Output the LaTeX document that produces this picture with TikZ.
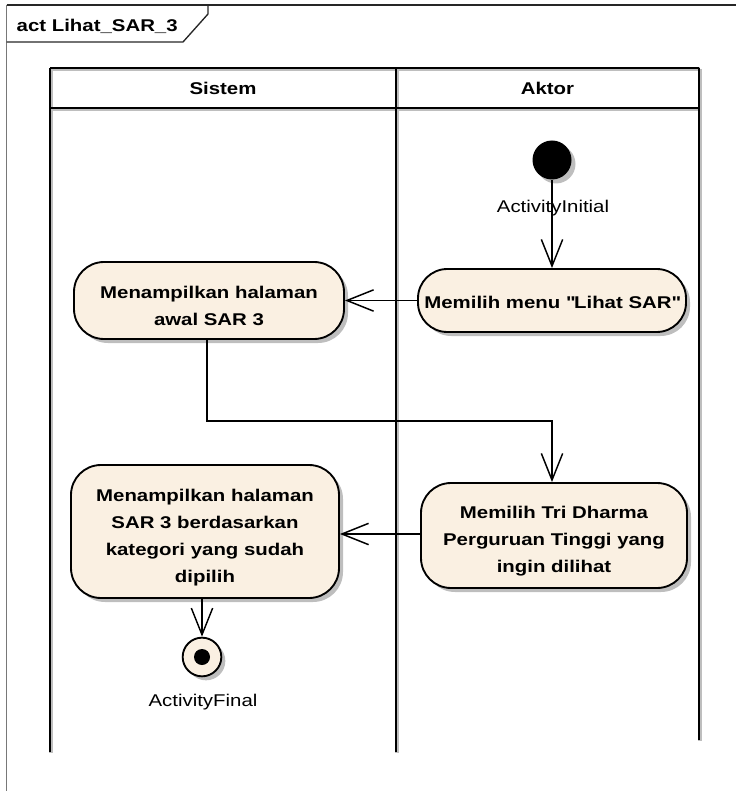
\documentclass[tikz,border=0pt]{standalone}
\usepackage{fontspec}
\setmainfont{Liberation Sans}[FakeStretch=1.2]
\usetikzlibrary{arrows.meta,shadows}
\definecolor{cream}{RGB}{250,240,226}
\definecolor{shadowgray}{RGB}{190,190,190}
\definecolor{framegray}{RGB}{120,120,120}
\newcommand{\topstrut}[1]{\rule{0pt}{#1}}
\tikzset{
  txt/.style={font=\fontsize{12.75}{20.3}\selectfont},
  btxt/.style={font=\fontsize{12.75}{20.3}\selectfont\bfseries},
  shad/.style={drop shadow={shadow xshift=3pt,shadow yshift=-3pt,fill=shadowgray,opacity=1}},
  actbox/.style={btxt,draw,line width=1.4pt,fill=cream,align=center,inner sep=0pt,shad},
  conn/.style={line width=1.1pt,-{Straight Barb[length=20pt,width=16pt,line width=1.1pt]}},
  laneshade/.style={line width=2.6pt,shadowgray},
  lane/.style={line width=1.5pt,black},
}
\begin{document}
\begin{tikzpicture}[x=0.75pt,y=-0.75pt]
\useasboundingbox (0,0) rectangle (736,791);
% outer frame
\draw[framegray,line width=1.3pt] (6.5,5) -- (6.5,791);
\draw[black!85,line width=1pt] (6.5,5) -- (736,5);
\draw[black!85,line width=1pt] (6.5,42) -- (183,42) -- (208,14) -- (208,5);
\node[btxt,anchor=west] (title) at (12,26) {act Lihat\_SAR\_3};
% swimlanes
\draw[laneshade] (51,69) -- (51,753);
\draw[laneshade] (397,69) -- (397,753);
\draw[laneshade] (700,69) -- (700,741);
\draw[laneshade] (51,69) -- (700,69);
\draw[laneshade] (51,109) -- (700,109);
\draw[lane] (50,68) -- (50,752);
\draw[lane] (396,68) -- (396,752);
\draw[lane] (699,68) -- (699,740);
\draw[lane] (50,68) -- (699,68);
\draw[lane] (50,108) -- (699,108);
\node[btxt] (hsis) at (223,88) {Sistem};
\node[btxt] (hakt) at (547.5,88) {Aktor};
% nodes
\node[circle,fill=black,minimum size=29.25pt,inner sep=0pt,shad] (init) at (552,160) {};
\node[txt] (initlbl) at (553,208) {ActivityInitial};
\node[actbox,minimum width=201pt,minimum height=47.25pt,rounded corners=22pt] (menu) at (552,300.5) {\topstrut{12.5pt}Memilih menu \textquotedbl Lihat SAR\textquotedbl};
\node[actbox,minimum width=202.5pt,minimum height=57.75pt,rounded corners=22.5pt] (awal) at (209,300.5) {\topstrut{18pt}Menampilkan halaman\\awal SAR 3};
\node[actbox,minimum width=199.5pt,minimum height=78.75pt,rounded corners=22.5pt] (tri) at (554,535.5) {\topstrut{18pt}Memilih Tri Dharma\\Perguruan Tinggi yang\\ingin dilihat};
\node[actbox,minimum width=201pt,minimum height=99.75pt,rounded corners=22.5pt] (sar) at (205,531.5) {\topstrut{18pt}Menampilkan halaman\\SAR 3 berdasarkan\\kategori yang sudah\\dipilih};
\node[circle,draw,line width=1.4pt,fill=cream,minimum size=29pt,inner sep=0pt,shad] (final) at (202,657) {};
\node[circle,fill=black,minimum size=12pt,inner sep=0pt] (finaldot) at (final.center) {};
\node[txt] (finallbl) at (203,702) {ActivityFinal};
% connectors
\coordinate (bend) at (0,421);
\draw[conn] (init.south) -- (menu.north);
\draw[conn] (menu.west) -- (awal.east);
\draw[conn] (awal.south -| 207,0) |- (bend -| menu.north) -- (menu.north |- tri.north);
\draw[conn] (tri.west |- 0,534) -- (sar.east |- 0,534);
\draw[conn] (sar.south -| final.north) -- (final.north);
\end{tikzpicture}
\end{document}
